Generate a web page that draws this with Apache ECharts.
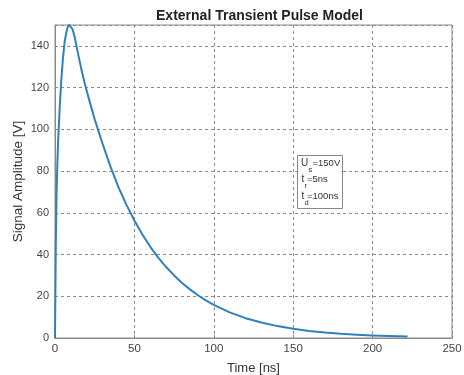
<!DOCTYPE html>
<html>
<head>
<meta charset="utf-8">
<script src="https://cdn.jsdelivr.net/npm/echarts@6/dist/echarts.min.js"></script>
<style>
  html, body { margin: 0; padding: 0; background: #fff; }
  #chart { width: 464px; height: 375px; }
</style>
</head>
<body>
<div id="chart"></div>
<script>
// Pulse samples: time in ns, amplitude in V
const timeNs = [0, 0.25, 0.5, 1, 1.5, 2, 3, 4, 5, 6, 7, 8, 9, 10, 11, 12, 13, 14, 15, 16, 17, 18, 19, 20, 22, 25, 27, 30, 35, 40, 45, 50, 55, 60, 65, 70, 75, 80, 85, 90, 95, 100, 110, 120, 130, 140, 150, 160, 170, 180, 190, 200, 210, 222];
const amplitudeV = [0, 22, 45, 70, 84, 95, 111, 124, 134, 141.5, 146, 149, 150, 149.5, 148, 145.5, 142, 138.2, 134.5, 131, 127.5, 124.3, 121.3, 118.4, 112.8, 104.8, 100, 93, 82, 72.2, 63.8, 56.3, 49.6, 43.7, 38.5, 34, 30, 26.4, 23.3, 20.5, 18, 15.9, 12.3, 9.5, 7.4, 5.7, 4.4, 3.4, 2.6, 2.0, 1.6, 1.2, 0.95, 0.7];

const xTicks = [0, 50, 100, 150, 200, 250];
const yTicks = [0, 20, 40, 60, 80, 100, 120, 140];

// Annotation parameters: [main symbol, subscript, value text]
const paramLines = [
  ['U', 's', '=150V'],
  ['t', 'r', '=5ns'],
  ['t', 'd', '=100ns']
];

const FONT = 'Liberation Sans, Arial, sans-serif';
const chart = echarts.init(document.getElementById('chart'), null, { renderer: 'canvas' });

const gridLine = { show: true, lineStyle: { color: '#8a8a8a', type: [3, 3], width: 1 } };

// Annotation box built from text pieces with lowered subscripts
const boxX = 297, boxY = 155, lineGap = 16.5;
const annot = [{
  type: 'rect',
  shape: { x: boxX + 0.5, y: boxY + 0.5, width: 45, height: 53 },
  style: { fill: '#fff', stroke: '#888', lineWidth: 1 },
  z: 100
}];
paramLines.forEach((p, i) => {
  const y = boxY + 8 + i * lineGap;
  const isU = p[0] === 'U';
  const x0 = boxX + (isU ? 4 : 4.5);
  annot.push({ type: 'text', x: x0, y: y, z: 101,
    style: { text: p[0], font: '10px ' + FONT, fill: '#333', verticalAlign: 'middle' } });
  annot.push({ type: 'text', x: x0 + (isU ? 7.5 : 3), y: y + 6.5, z: 101,
    style: { text: p[1], font: '7.5px ' + FONT, fill: '#333', verticalAlign: 'middle' } });
  annot.push({ type: 'text', x: x0 + (isU ? 11.5 : 5.5), y: y, z: 101,
    style: { text: p[2], font: '9.5px ' + FONT, fill: '#333', verticalAlign: 'middle' } });
});

chart.setOption({
  animation: false,
  backgroundColor: '#fff',
  title: {
    text: 'External Transient Pulse Model',
    left: 254.5, top: 4, textAlign: 'center',
    textStyle: { fontFamily: FONT, fontWeight: 'bold', fontSize: 14, color: '#222' }
  },
  grid: {
    left: 55, right: 12, top: 25, bottom: 37,
    outerBoundsMode: 'none', containLabel: false,
    show: true, borderColor: '#8a8a8a', borderWidth: 1, backgroundColor: '#fff'
  },
  xAxis: {
    type: 'value', min: xTicks[0], max: xTicks[xTicks.length - 1], interval: 50,
    name: 'Time [ns]', nameLocation: 'middle', nameGap: 24,
    nameTextStyle: { fontFamily: FONT, fontSize: 13, color: '#333' },
    axisLine: { show: true, lineStyle: { color: '#8a8a8a' } },
    axisTick: { show: true, inside: true, length: 3, lineStyle: { color: '#8a8a8a' } },
    axisLabel: { fontFamily: FONT, fontSize: 11.5, color: '#444', margin: 5,
      formatter: v => xTicks.includes(v) ? String(v) : '' },
    splitLine: gridLine
  },
  yAxis: {
    type: 'value', min: 0, max: 150, interval: 20,
    name: 'Signal Amplitude [V]', nameLocation: 'middle', nameGap: 30,
    nameMoveOverlap: false,
    nameTextStyle: { fontFamily: FONT, fontSize: 13.5, color: '#333' },
    axisLine: { show: true, lineStyle: { color: '#8a8a8a' } },
    axisTick: { show: true, inside: true, length: 3, lineStyle: { color: '#8a8a8a' } },
    axisLabel: { fontFamily: FONT, fontSize: 11, color: '#444', margin: 6, showMaxLabel: false,
      formatter: v => yTicks.includes(v) ? String(v) : '' },
    splitLine: gridLine
  },
  series: [{
    type: 'line',
    data: timeNs.map((t, i) => [t, amplitudeV[i]]),
    showSymbol: false,
    smooth: false,
    lineStyle: { color: '#2f80bd', width: 2, join: 'round' },
    z: 5
  }],
  graphic: annot
});
</script>
</body>
</html>
